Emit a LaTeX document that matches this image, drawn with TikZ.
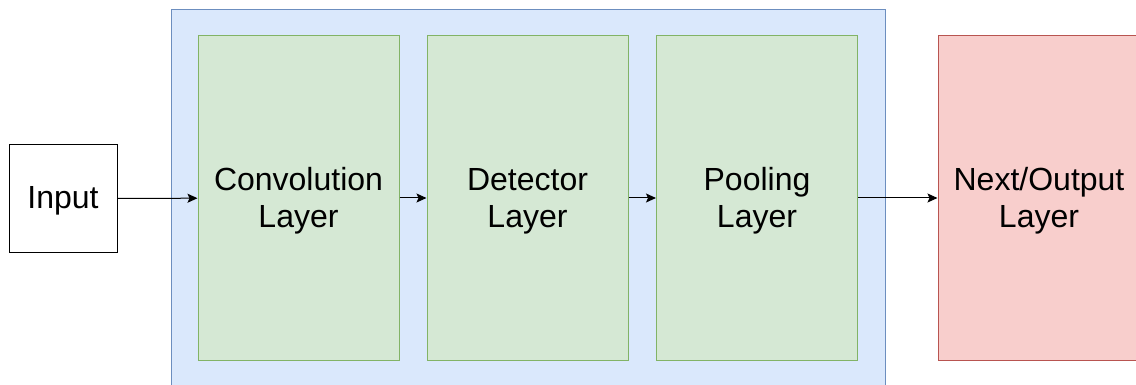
\documentclass[tikz,border=0pt]{standalone}
\usepackage{fontspec}
\setmainfont{Liberation Sans}
\usetikzlibrary{arrows.meta}
\definecolor{blueFill}{HTML}{DAE8FC}
\definecolor{blueLine}{HTML}{6C8EBF}
\definecolor{greenFill}{HTML}{D5E8D4}
\definecolor{greenLine}{HTML}{82B366}
\definecolor{redFill}{HTML}{F8CECC}
\definecolor{redLine}{HTML}{B85450}
% text lowered a little inside its box, box kept as it is
\newcommand{\lowtext}[2][4pt]{\raisebox{-#1}[\height][\depth]{\begin{tabular}{@{}c@{}}#2\end{tabular}}}
\tikzset{
  layerbox/.style={draw=greenLine,fill=greenFill,line width=1pt,minimum width=201pt,minimum height=324pt,inner sep=0pt},
  outbox/.style={layerbox,draw=redLine,fill=redFill,minimum width=202pt},
  inbox/.style={draw=black,fill=white,line width=1pt,minimum width=108pt,minimum height=107pt,inner sep=0pt},
  flow/.style={-{Stealth[length=10pt,width=9pt,inset=2pt]},line width=1pt}
}
\begin{document}
\begin{tikzpicture}[x=1pt,y=-1pt,font=\fontsize{32}{37}\selectfont]
\useasboundingbox (0,0) rectangle (1136,385);
\clip (0,0) rectangle (1136,385);
% block around the three layers
\draw [draw=blueLine,fill=blueFill,line width=1pt] (171,10) rectangle (885,400);
\node [inbox] (input) at (63,198.5) {\lowtext[3pt]{Input}};
\node [layerbox] (conv) at (298.5,198) {\lowtext{Convolution\\Layer}};
\node [layerbox] (detect) at (527.5,198) {\lowtext{Detector\\Layer}};
\node [layerbox] (pool) at (757,198) {\lowtext{Pooling\\Layer}};
\node [outbox] (next) at (1039,198) {\lowtext{Next/Output\\Layer}};
\draw [flow] (input) -- (conv);
\draw [flow] (conv) -- (detect);
\draw [flow] (detect) -- (pool);
\draw [flow] (pool) -- (next);
\end{tikzpicture}
\end{document}
